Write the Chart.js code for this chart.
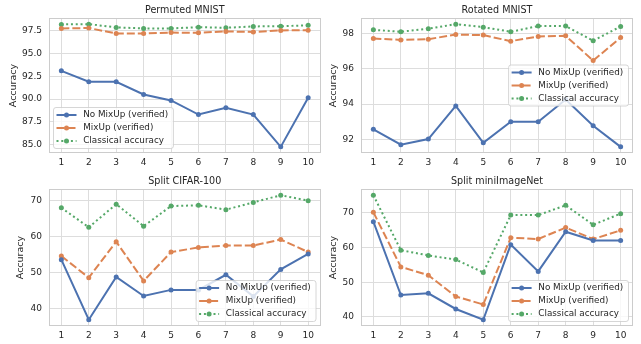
<!DOCTYPE html>
<html>
<head>
<meta charset="utf-8">
<script src="https://cdn.jsdelivr.net/npm/chart.js@4.4.0/dist/chart.umd.min.js"></script>
<style>
  html, body { margin: 0; padding: 0; background: #fff; }
  #wrap { position: relative; width: 641px; height: 344px; overflow: hidden; }
  canvas { position: absolute; }
</style>
</head>
<body>
<div id="wrap">
  <canvas id="c1" width="323" height="172" style="left:0;top:0"></canvas>
  <canvas id="c2" width="318" height="172" style="left:323px;top:0"></canvas>
  <canvas id="c3" width="323" height="172" style="left:0;top:172px"></canvas>
  <canvas id="c4" width="318" height="172" style="left:323px;top:172px"></canvas>
</div>
<script>
// ===== data =====
const xTasks = [1, 2, 3, 4, 5, 6, 7, 8, 9, 10];
const seriesNames = ["No MixUp (verified)", "MixUp (verified)", "Classical accuracy"];

// Permuted MNIST
const permNoMix = [93.1, 91.9, 91.9, 90.5, 89.85, 88.3, 89.05, 88.3, 84.75, 90.15];
const permMix = [97.76, 97.8, 97.2, 97.2, 97.3, 97.28, 97.43, 97.37, 97.54, 97.57];
const permClassical = [98.2, 98.23, 97.87, 97.76, 97.76, 97.9, 97.83, 97.98, 98.0, 98.1];
const permTicks = [85.0, 87.5, 90.0, 92.5, 95.0, 97.5];
const permTickLabels = ["85.0", "87.5", "90.0", "92.5", "95.0", "97.5"];

// Rotated MNIST
const rotNoMix = [92.57, 91.7, 92.02, 93.89, 91.81, 93.0, 93.0, 94.25, 92.77, 91.58];
const rotMix = [97.7, 97.62, 97.66, 97.92, 97.89, 97.55, 97.81, 97.85, 96.45, 97.75];
const rotClassical = [98.19, 98.08, 98.25, 98.51, 98.34, 98.08, 98.4, 98.4, 97.57, 98.38];
const rotTicks = [92, 94, 96, 98];
const rotTickLabels = ["92", "94", "96", "98"];

// Split CIFAR-100
const cifNoMix = [53.7, 37.0, 48.9, 43.6, 45.3, 45.3, 49.5, 43.5, 51.0, 55.3];
const cifMix = [54.7, 48.7, 58.7, 47.8, 55.8, 57.1, 57.6, 57.6, 59.3, 55.8];
const cifClassical = [68.1, 62.7, 69.1, 63.0, 68.6, 68.8, 67.6, 69.6, 71.6, 70.1];
const cifTicks = [40, 50, 60, 70];
const cifTickLabels = ["40", "50", "60", "70"];

// Split miniImageNet
const minNoMix = [67.4, 46.3, 46.8, 42.3, 39.2, 60.8, 53.1, 64.5, 62.0, 62.0];
const minMix = [70.1, 54.4, 52.0, 45.9, 43.6, 62.8, 62.4, 65.7, 62.4, 64.9];
const minClassical = [75.0, 59.2, 57.7, 56.5, 52.8, 69.3, 69.3, 72.1, 66.5, 69.7];
const minTicks = [40, 50, 60, 70];
const minTickLabels = ["40", "50", "60", "70"];

// ===== style =====
const seriesColors = ["#4C72B0", "#DD8452", "#55A868"];
const seriesDash = [[], [8, 3], [2, 2.8]];
const textColor = "#262626";
const gridColor = "#dddddd";
const fontFamily = "'DejaVu Sans', sans-serif";

// ===== title, y title, frame and legend inside the axes =====
const panelDecor = {
  id: "panelDecor",
  beforeDatasetsDraw(chart) {
    const ctx = chart.ctx, ca = chart.chartArea;
    ctx.save();
    ctx.strokeStyle = "#cccccc";
    ctx.lineWidth = 1;
    ctx.strokeRect(Math.round(ca.left) + 0.5, Math.round(ca.top) + 0.5,
      Math.round(ca.right - ca.left) - 1, Math.round(ca.bottom - ca.top) - 1);
    ctx.restore();
  },
  afterDraw(chart, args, opts) {
    const ctx = chart.ctx, ca = chart.chartArea;
    ctx.save();
    ctx.fillStyle = textColor;

    // title
    ctx.font = "9.6px " + fontFamily;
    ctx.textAlign = "center";
    ctx.textBaseline = "middle";
    ctx.fillText(opts.title, (ca.left + ca.right) / 2, ca.top - 8);

    // y axis title
    ctx.save();
    ctx.translate(opts.yTitleX, (ca.top + ca.bottom) / 2);
    ctx.rotate(-Math.PI / 2);
    ctx.font = "9.5px " + fontFamily;
    ctx.fillText("Accuracy", 0, 0);
    ctx.restore();

    // legend
    ctx.font = "8.8px " + fontFamily;
    const textW = Math.max(...seriesNames.map(n => ctx.measureText(n).width));
    const boxW = 29.7 + textW + 5.3;
    const rowH = 13;
    const boxH = 41;
    const inset = 4.5;
    let bx, by;
    if (opts.legendLoc === "lower left") {
      bx = ca.left + inset; by = ca.bottom - inset - boxH;
    } else if (opts.legendLoc === "center right") {
      bx = ca.right - inset - boxW; by = (ca.top + ca.bottom) / 2 - boxH / 2;
    } else {
      bx = ca.right - inset - boxW; by = ca.bottom - inset - boxH;
    }
    ctx.beginPath();
    ctx.roundRect(bx, by, boxW, boxH, 2.5);
    ctx.fillStyle = "rgba(255,255,255,0.8)";
    ctx.fill();
    ctx.strokeStyle = "#cccccc";
    ctx.lineWidth = 0.8;
    ctx.stroke();

    chart.data.datasets.forEach((ds, k) => {
      const cy = by + 7.5 + k * rowH;
      ctx.strokeStyle = ds.borderColor;
      ctx.lineWidth = ds.borderWidth;
      ctx.setLineDash(ds.borderDash);
      ctx.beginPath();
      ctx.moveTo(bx + 3, cy);
      ctx.lineTo(bx + 23, cy);
      ctx.stroke();
      ctx.setLineDash([]);
      ctx.fillStyle = ds.borderColor;
      ctx.beginPath();
      ctx.arc(bx + 13, cy, ds.pointRadius, 0, Math.PI * 2);
      ctx.fill();
      ctx.fillStyle = textColor;
      ctx.textAlign = "left";
      ctx.textBaseline = "middle";
      ctx.fillText(ds.label, bx + 29.7, cy);
    });
    ctx.restore();
  }
};

// ===== build one panel =====
function makePanel(id, title, noMix, mix, classical, yTicks, yTickLabels, box) {
  const seriesVals = [noMix, mix, classical];
  const datasets = seriesVals.map((vals, k) => ({
    label: seriesNames[k],
    data: xTasks.map((x, i) => ({ x: x, y: vals[i] })),
    borderColor: seriesColors[k],
    backgroundColor: seriesColors[k],
    borderWidth: 2,
    borderDash: seriesDash[k],
    pointRadius: 2.5,
    pointBorderWidth: 0,
    pointHoverRadius: 2.5,
    tension: 0,
    fill: false
  }));

  // matplotlib-like 5% margins around the data
  const all = [].concat(noMix, mix, classical);
  const lo = Math.min(...all), hi = Math.max(...all);
  const pad = (hi - lo) * 0.05;

  return new Chart(document.getElementById(id), {
    type: "line",
    data: { datasets: datasets },
    options: {
      responsive: false,
      animation: false,
      events: [],
      layout: { padding: { top: box.top, right: box.right, left: 0, bottom: 0 } },
      scales: {
        x: {
          type: "linear",
          min: 0.55,
          max: 10.45,
          afterBuildTicks: s => { s.ticks = xTasks.map(v => ({ value: v })); },
          afterFit: s => { s.height = box.bottom; },
          ticks: {
            color: textColor,
            font: { family: fontFamily, size: 9 },
            padding: 4,
            autoSkip: false,
            maxRotation: 0,
            callback: v => String(v)
          },
          grid: { color: gridColor, lineWidth: 1, drawTicks: false },
          border: { display: false }
        },
        y: {
          min: lo - pad,
          max: hi + pad,
          afterBuildTicks: s => { s.ticks = yTicks.map(v => ({ value: v })); },
          afterFit: s => { s.width = box.left; },
          ticks: {
            color: textColor,
            font: { family: fontFamily, size: 9 },
            padding: 7,
            callback: (v, i) => yTickLabels[i]
          },
          grid: { color: gridColor, lineWidth: 1, drawTicks: false },
          border: { display: false }
        }
      },
      plugins: {
        legend: { display: false },
        tooltip: { enabled: false },
        panelDecor: { title: title, yTitleX: box.yTitle, legendLoc: box.legend }
      }
    },
    plugins: [panelDecor]
  });
}

makePanel("c1", "Permuted MNIST", permNoMix, permMix, permClassical, permTicks, permTickLabels,
  { left: 49, top: 18, right: 2, bottom: 19, yTitle: 13.5, legend: "lower left" });
makePanel("c2", "Rotated MNIST", rotNoMix, rotMix, rotClassical, rotTicks, rotTickLabels,
  { left: 38, top: 18, right: 8, bottom: 19, yTitle: 10.3, legend: "center right" });
makePanel("c3", "Split CIFAR-100", cifNoMix, cifMix, cifClassical, cifTicks, cifTickLabels,
  { left: 49, top: 17, right: 2, bottom: 18, yTitle: 20.7, legend: "lower right" });
makePanel("c4", "Split miniImageNet", minNoMix, minMix, minClassical, minTicks, minTickLabels,
  { left: 38, top: 17, right: 8, bottom: 18, yTitle: 10.3, legend: "lower right" });
</script>
</body>
</html>
